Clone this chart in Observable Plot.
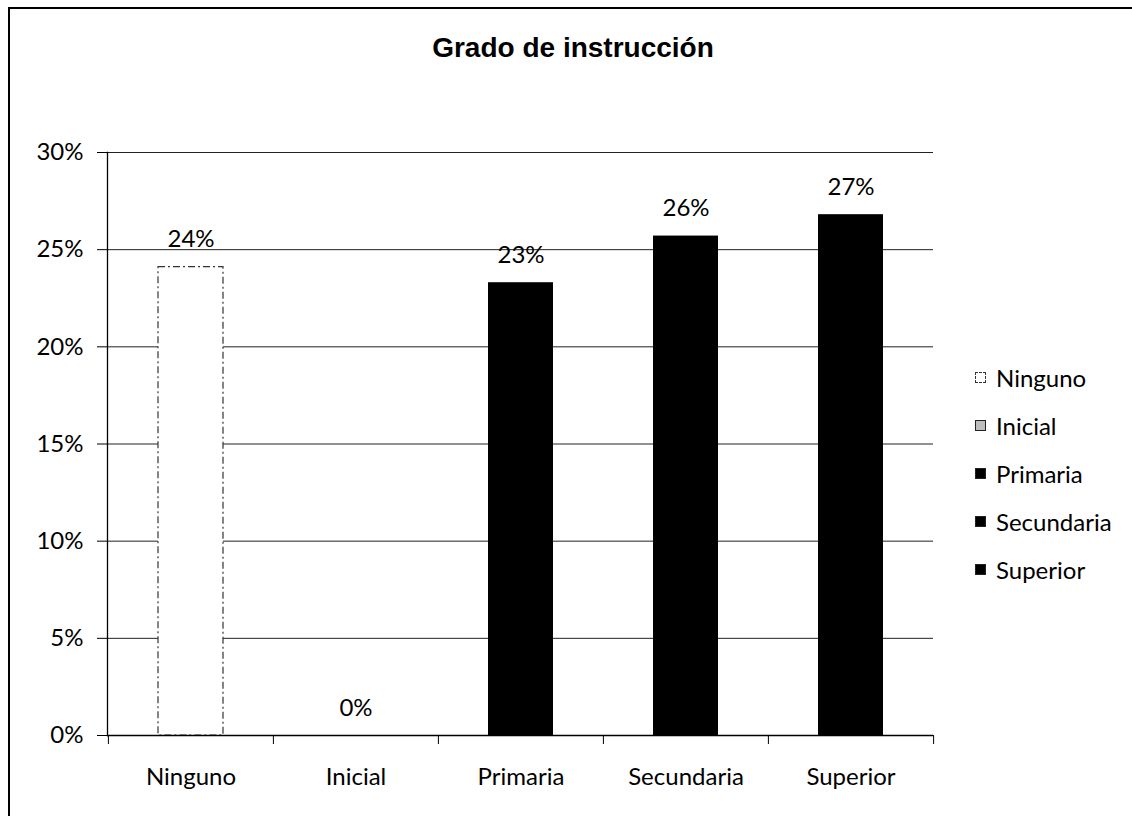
<!DOCTYPE html>
<html>
<head>
<meta charset="utf-8">
<script src="https://cdn.jsdelivr.net/npm/d3@7"></script>
<script src="https://cdn.jsdelivr.net/npm/@observablehq/plot@0.6"></script>
<style>
  html, body { margin: 0; padding: 0; background: #fff; overflow: hidden; }
  #wrap { position: relative; width: 1132px; height: 816px; overflow: hidden; background: #fff; }
  #lineTop { position: absolute; left: 8px; top: 7px; width: 1124px; height: 2px; background: #000; z-index: 5; }
  #lineLeft { position: absolute; left: 8px; top: 7px; width: 2px; height: 809px; background: #000; z-index: 5; }
  #cover { position: absolute; left: 1116px; top: 9px; width: 16px; height: 807px; background: #fff; z-index: 6; }
  #title { position: absolute; left: 0; top: 0; width: 1132px; height: 100px; padding-left: 14px; box-sizing: border-box; text-align: center;
           font-family: "Liberation Sans", Arial, sans-serif; font-weight: bold; font-size: 28px; line-height: 96px; color: #000; }
  #chart { position: absolute; left: 0; top: 100px; }
  #legend { position: absolute; left: 975px; top: 353px; font-family: Lato, "Noto Sans", sans-serif; font-size: 24px; color: #000; }
  .item { height: 48px; display: flex; align-items: center; }
  .sw { width: 11px; height: 11px; margin-right: 10px; box-sizing: border-box; }
</style>
</head>
<body>
<div id="wrap">
  <div id="title"></div>
  <div id="chart"></div>
  <div id="legend"></div>
  <div id="lineTop"></div>
  <div id="lineLeft"></div>
  <div id="cover"></div>
</div>
<script>
const title = "Grado de instrucción";
const categories = ["Ninguno", "Inicial", "Primaria", "Secundaria", "Superior"];
const values = [0.241, 0.0, 0.233, 0.257, 0.268];
const fills = ["#ffffff", "#bdbdbd", "#000000", "#000000", "#000000"];
const yTicks = [0, 0.05, 0.10, 0.15, 0.20, 0.25, 0.30];

const data = categories.map((c, i) => ({cat: c, value: values[i], fill: fills[i]}));
const pct = d3.format(".0%");

document.getElementById("title").textContent = title;

const W = 1132, H = 716, ML = 107, MR = 199, MT = 52, MB = 81;
const half = (W - ML - MR) / categories.length / 2;
const font = "Lato, 'Noto Sans', sans-serif";

const chart = Plot.plot({
  width: W, height: H,
  marginLeft: ML, marginRight: MR, marginTop: MT, marginBottom: MB,
  style: {fontFamily: font, fontSize: "24px", color: "#000", background: "transparent"},
  x: {domain: categories, padding: 0, axis: null},
  y: {domain: [0, 0.30], axis: null},
  color: {type: "identity"},
  marks: [
    Plot.gridY(yTicks, {stroke: "#222", strokeOpacity: 1, strokeWidth: 1}),
    Plot.barY(data.filter(d => d.cat !== "Ninguno"), {x: "cat", y: "value", fill: "fill", insetLeft: 50, insetRight: 50}),
    Plot.barY(data.filter(d => d.cat === "Ninguno"), {x: "cat", y: "value", fill: "fill", stroke: "#333", strokeWidth: 1.2, strokeDasharray: "7,3,2,3", insetLeft: 50, insetRight: 50}),
    Plot.frame({anchor: "left", stroke: "#000", strokeWidth: 1.3}),
    Plot.ruleY([0], {stroke: "#000", strokeWidth: 1.3}),
    Plot.axisY(yTicks, {tickFormat: pct, tickSize: 10, tickPadding: 14, fontSize: 24, label: null, stroke: "#000"}),
    Plot.axisX(categories, {tickSize: 9, tickFormat: () => "", dx: -half, label: null, stroke: "#000"}),
    Plot.axisX([categories[categories.length - 1]], {tickSize: 9, tickFormat: () => "", dx: half, label: null, stroke: "#000"}),
    Plot.axisX(categories, {tickSize: 0, tickPadding: 32, fontSize: 24, label: null}),
    Plot.text(data, {x: "cat", y: "value", text: d => pct(d.value), lineAnchor: "bottom", dy: -20, fontSize: 24, fill: "#000"})
  ]
});
document.getElementById("chart").appendChild(chart);

const legend = document.getElementById("legend");
categories.forEach((c, i) => {
  const item = document.createElement("div");
  item.className = "item";
  const sw = document.createElement("div");
  sw.className = "sw";
  sw.style.background = fills[i];
  sw.style.border = i === 0 ? "1.5px dashed #333" : "1px solid #222";
  const label = document.createElement("span");
  label.textContent = c;
  item.appendChild(sw);
  item.appendChild(label);
  legend.appendChild(item);
});
</script>
</body>
</html>
